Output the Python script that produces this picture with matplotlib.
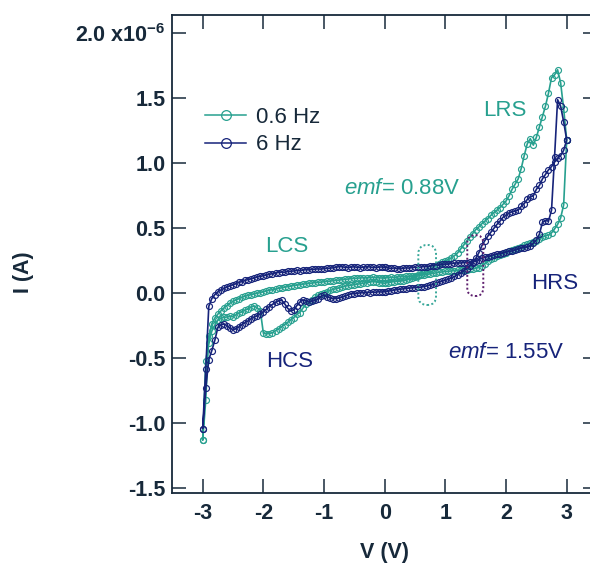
import matplotlib
matplotlib.use("Agg")
import matplotlib.pyplot as plt
from matplotlib.lines import Line2D
from matplotlib.patches import FancyBboxPatch

plt.rcParams['font.family'] = ['Liberation Sans', 'DejaVu Sans']
plt.rcParams['mathtext.fontset'] = 'custom'
plt.rcParams['mathtext.rm'] = 'Liberation Sans'
plt.rcParams['mathtext.it'] = 'Liberation Sans:italic'
plt.rcParams['mathtext.bf'] = 'Liberation Sans:bold'
plt.rcParams['axes.unicode_minus'] = False

# --- voltage sweep (V) ---
V_POS = [0.00, 0.05, 0.10, 0.15, 0.20, 0.25, 0.30, 0.35, 0.40, 0.45,
         0.50, 0.55, 0.60, 0.65, 0.70, 0.75, 0.80, 0.85, 0.90, 0.95,
         1.00, 1.05, 1.10, 1.15, 1.20, 1.25, 1.30, 1.35, 1.40, 1.45,
         1.50, 1.55, 1.60, 1.65, 1.70, 1.75, 1.80, 1.85, 1.90, 1.95,
         2.00, 2.05, 2.10, 2.15, 2.20, 2.25, 2.30, 2.35, 2.40, 2.45,
         2.50, 2.55, 2.60, 2.65, 2.70, 2.75, 2.80, 2.85, 2.90, 2.95, 3.00]
V_NEG = [0.00, -0.05, -0.10, -0.15, -0.20, -0.25, -0.30, -0.35, -0.40, -0.45,
         -0.50, -0.55, -0.60, -0.65, -0.70, -0.75, -0.80, -0.85, -0.90, -0.95,
         -1.00, -1.05, -1.10, -1.15, -1.20, -1.25, -1.30, -1.35, -1.40, -1.45,
         -1.50, -1.55, -1.60, -1.65, -1.70, -1.75, -1.80, -1.85, -1.90, -1.95,
         -2.00, -2.05, -2.10, -2.15, -2.20, -2.25, -2.30, -2.35, -2.40, -2.45,
         -2.50, -2.55, -2.60, -2.65, -2.70, -2.75, -2.80, -2.85, -2.90, -2.95, -3.00]

# --- 6 Hz current (x1e-6 A), in sweep order ---
NAVY_UP = [0.200, 0.196, 0.192, 0.195, 0.190, 0.188, 0.192, 0.196, 0.194, 0.198,
           0.201, 0.199, 0.203, 0.206, 0.204, 0.210, 0.214, 0.212, 0.218, 0.222,
           0.226, 0.224, 0.229, 0.232, 0.235, 0.233, 0.236, 0.236, 0.238, 0.242,
           0.250, 0.260, 0.270, 0.276, 0.282, 0.290, 0.297, 0.302, 0.305, 0.310,
           0.318, 0.322, 0.326, 0.333, 0.340, 0.348, 0.352, 0.357, 0.363, 0.385,
           0.410, 0.455, 0.545, 0.560, 0.555, 0.640, 1.050, 1.490, 1.440, 1.320, 1.180]
NAVY_DOWN = [1.180, 1.100, 1.060, 1.040, 1.010, 0.975, 0.950, 0.915, 0.880, 0.830,
             0.800, 0.750, 0.742, 0.722, 0.690, 0.668, 0.640, 0.632, 0.628, 0.618,
             0.600, 0.585, 0.555, 0.530, 0.500, 0.470, 0.440, 0.405, 0.365, 0.310,
             0.268, 0.236, 0.210, 0.190, 0.172, 0.155, 0.142, 0.130, 0.118, 0.108,
             0.100, 0.094, 0.086, 0.076, 0.068, 0.062, 0.058, 0.052, 0.048, 0.046,
             0.044, 0.042, 0.040, 0.037, 0.034, 0.031, 0.028, 0.024, 0.020, 0.016, 0.012]
NAVY_NEG_OUT = [0.012, 0.010, 0.012, 0.008, 0.010, 0.006, 0.008, 0.004, 0.004, 0.000,
                -0.004, -0.002, -0.012, -0.022, -0.030, -0.036, -0.040, -0.042, -0.036, -0.025,
                -0.015, -0.022, -0.045, -0.055, -0.062, -0.066, -0.058, -0.050, -0.068, -0.095,
                -0.128, -0.135, -0.115, -0.080, -0.052, -0.058, -0.068, -0.085, -0.102, -0.122,
                -0.142, -0.158, -0.172, -0.182, -0.195, -0.212, -0.225, -0.240, -0.258, -0.272,
                -0.280, -0.268, -0.248, -0.236, -0.242, -0.262, -0.360, -0.440, -0.510, -0.730, -1.040]
NAVY_NEG_BACK = [-1.040, -0.580, -0.100, -0.040, -0.010, 0.012, 0.025, 0.038, 0.048, 0.058,
                 0.066, 0.075, 0.085, 0.090, 0.100, 0.106, 0.112, 0.118, 0.126, 0.130,
                 0.136, 0.140, 0.146, 0.152, 0.158, 0.160, 0.164, 0.162, 0.168, 0.170,
                 0.172, 0.176, 0.174, 0.178, 0.182, 0.180, 0.184, 0.186, 0.188, 0.186,
                 0.190, 0.192, 0.194, 0.196, 0.200, 0.206, 0.204, 0.200, 0.198, 0.202,
                 0.204, 0.200, 0.198, 0.202, 0.205, 0.203, 0.200, 0.198, 0.201, 0.203, 0.200]

# --- 0.6 Hz current (x1e-6 A), in sweep order ---
TEAL_UP = [0.118, 0.120, 0.122, 0.121, 0.125, 0.128, 0.127, 0.130, 0.133, 0.132,
           0.136, 0.139, 0.141, 0.144, 0.146, 0.150, 0.153, 0.158, 0.162, 0.165,
           0.168, 0.170, 0.172, 0.175, 0.178, 0.180, 0.182, 0.183, 0.186, 0.188,
           0.192, 0.198, 0.212, 0.228, 0.248, 0.262, 0.272, 0.285, 0.298, 0.305,
           0.312, 0.322, 0.332, 0.340, 0.350, 0.360, 0.372, 0.380, 0.390, 0.396,
           0.404, 0.418, 0.432, 0.442, 0.448, 0.465, 0.495, 0.530, 0.580, 0.680, 1.180]
TEAL_DOWN = [1.180, 1.420, 1.620, 1.720, 1.680, 1.660, 1.540, 1.440, 1.360, 1.280,
             1.200, 1.140, 1.190, 1.150, 1.060, 0.960, 0.880, 0.840, 0.800, 0.750,
             0.710, 0.685, 0.660, 0.640, 0.620, 0.600, 0.575, 0.555, 0.535, 0.510,
             0.490, 0.460, 0.430, 0.400, 0.370, 0.340, 0.310, 0.290, 0.272, 0.260,
             0.250, 0.240, 0.228, 0.214, 0.200, 0.185, 0.170, 0.157, 0.145, 0.135,
             0.125, 0.118, 0.108, 0.100, 0.096, 0.094, 0.092, 0.090, 0.086, 0.082, 0.078]
TEAL_NEG_OUT = [0.078, 0.080, 0.083, 0.088, 0.090, 0.086, 0.082, 0.078, 0.074, 0.070,
                0.067, 0.062, 0.060, 0.055, 0.048, 0.042, 0.036, 0.030, 0.022, 0.014,
                0.006, -0.004, -0.015, -0.030, -0.048, -0.066, -0.085, -0.115, -0.148, -0.160,
                -0.188, -0.205, -0.222, -0.240, -0.258, -0.275, -0.288, -0.302, -0.310, -0.312,
                -0.308, -0.135, -0.112, -0.098, -0.104, -0.120, -0.128, -0.142, -0.150, -0.165,
                -0.180, -0.178, -0.182, -0.185, -0.192, -0.205, -0.245, -0.290, -0.380, -0.520, -1.130]
TEAL_NEG_BACK = [-1.130, -0.820, -0.330, -0.235, -0.190, -0.160, -0.135, -0.112, -0.095, -0.075,
                 -0.062, -0.050, -0.040, -0.030, -0.022, -0.016, -0.010, -0.004, 0.000, 0.006,
                 0.012, 0.018, 0.024, 0.028, 0.033, 0.038, 0.042, 0.047, 0.051, 0.055,
                 0.060, 0.063, 0.066, 0.070, 0.073, 0.076, 0.079, 0.082, 0.084, 0.086,
                 0.089, 0.092, 0.094, 0.097, 0.100, 0.102, 0.105, 0.108, 0.110, 0.113,
                 0.115, 0.117, 0.118, 0.120, 0.119, 0.120, 0.122, 0.120, 0.119, 0.118, 0.118]

Y_TICKS = [-1.5, -1.0, -0.5, 0.0, 0.5, 1.0, 1.5, 2.0]
Y_TICK_LABELS = ['-1.5', '-1.0', '-0.5', '0.0', '0.5', '1.0', '1.5', r'2.0 x10$^{\mathbf{-6}}$']
X_TICKS = [-3, -2, -1, 0, 1, 2, 3]

TEAL = '#27a08f'
NAVY = '#16237a'
INK = '#17293a'
FS = 15.5
FS_NOTE = 16


def sweep(v_pos, v_neg, up, down, neg_out, neg_back):
    v = v_pos + v_pos[::-1] + v_neg + v_neg[::-1]
    i = up + down + neg_out + neg_back
    return v, i


fig = plt.figure(figsize=(5.90, 5.69), dpi=100)
ax = fig.add_axes([0.2922, 0.1336, 0.7197, 0.8400])

v6, i6 = sweep(V_POS, V_NEG, NAVY_UP, NAVY_DOWN, NAVY_NEG_OUT, NAVY_NEG_BACK)
v06, i06 = sweep(V_POS, V_NEG, TEAL_UP, TEAL_DOWN, TEAL_NEG_OUT, TEAL_NEG_BACK)

ax.plot(v06, i06, color=TEAL, lw=1.2, marker='o', ms=4.3, mfc='none', mew=0.85, zorder=3)
ax.plot(v6, i6, color=NAVY, lw=1.2, marker='o', ms=4.3, mfc='none', mew=0.85, zorder=4)

# dotted capsules marking the crossings
for (x0, x1, y0, y1, c) in [(0.554, 0.846, -0.09, 0.372, '#3aa89a'),
                            (1.361, 1.625, -0.021, 0.448, '#5e1f6e')]:
    r = (x1 - x0) / 2
    box = FancyBboxPatch((x0, y0), x1 - x0, y1 - y0,
                         boxstyle=f"round,pad=0,rounding_size={r}",
                         mutation_aspect=0.4667, fill=False, ec=c,
                         ls=(0, (1, 1.2)), lw=1.4, zorder=6)
    ax.add_patch(box)

ax.set_xlim(-3.5, 3.5)
ax.set_ylim(-1.536, 2.141)
ax.set_xticks(X_TICKS)
ax.set_xticklabels([str(t) for t in X_TICKS])
ax.set_yticks(Y_TICKS)
ax.set_yticklabels(Y_TICK_LABELS)

for s in ax.spines.values():
    s.set_color(INK)
    s.set_linewidth(1.3)
ax.tick_params(direction='in', length=10, width=1.1, color=INK,
               top=True, right=True, labelsize=FS, labelcolor=INK)
ax.tick_params(axis='x', pad=7)
ax.tick_params(axis='y', pad=5)
for lab in ax.get_xticklabels() + ax.get_yticklabels():
    lab.set_fontweight('bold')

ax.set_xlabel('V (V)', fontsize=FS, fontweight='bold', color=INK)
ax.set_ylabel('I (A)', fontsize=FS, fontweight='bold', color=INK)
ax.xaxis.label.set_va('center')
ax.yaxis.label.set_va('center')
ax.xaxis.set_label_coords(0.5, -0.125)
ax.yaxis.set_label_coords(-0.35, 0.462)

# annotations
ax.text(1.98, 1.41, 'LRS', color=TEAL, fontsize=FS_NOTE, ha='center', va='center')
ax.text(-1.61, 0.364, 'LCS', color=TEAL, fontsize=FS_NOTE, ha='center', va='center')
ax.text(0.285, 0.81, r'$\mathit{emf}$= 0.88V', color=TEAL, fontsize=FS_NOTE, ha='center', va='center')
ax.text(2.807, 0.072, 'HRS', color=NAVY, fontsize=FS_NOTE, ha='center', va='center')
ax.text(-1.575, -0.528, 'HCS', color=NAVY, fontsize=FS_NOTE, ha='center', va='center')
ax.text(2.0, -0.452, r'$\mathit{emf}$= 1.55V', color=NAVY, fontsize=FS_NOTE, ha='center', va='center')

handles = [Line2D([], [], color=TEAL, lw=1.1, marker='o', ms=7, mfc='none', mew=0.9),
           Line2D([], [], color=NAVY, lw=1.1, marker='o', ms=7, mfc='none', mew=0.9)]
ax.legend(handles, ['0.6 Hz', '6 Hz'], loc='upper left', bbox_to_anchor=(0.077, 0.807),
          frameon=False, fontsize=FS_NOTE, handlelength=1.85, handletextpad=0.45,
          labelspacing=0.28, borderpad=0, borderaxespad=0, labelcolor=INK)

fig.savefig('out.png', dpi=100)
